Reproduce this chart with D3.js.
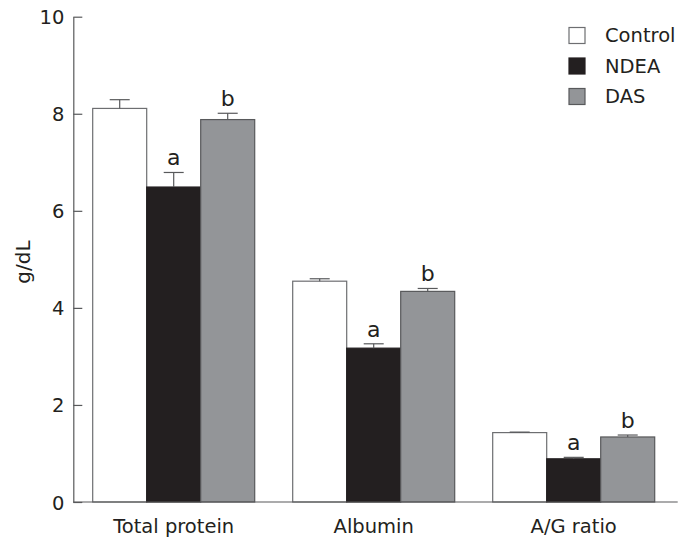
<!DOCTYPE html>
<html lang="en">
<head>
    <meta charset="UTF-8">
    <title>Serum proteins</title>
    <script src="https://d3js.org/d3.v7.min.js"></script>
    <style>
        body { margin: 0; background: #fff; }
        text { font-family: "DejaVu Sans", Verdana, sans-serif; fill: #231f20; }
        .axis path, .axis line { stroke: #58595b; stroke-width: 1.2px; }
        .axis text { font-size: 19.5px; fill: #231f20; }
        .err { stroke: #58595b; stroke-width: 1.2px; fill: none; }
    </style>
</head>
<body>
    <svg width="691" height="549"></svg>

    <script>
        // Data
        const categories = ["Total protein", "Albumin", "A/G ratio"];
        const groups = ["Control", "NDEA", "DAS"];
        const control = [8.11, 4.55, 1.43];
        const ndea = [6.49, 3.17, 0.89];
        const das = [7.88, 4.34, 1.34];
        const controlErr = [0.18, 0.05, 0.01];
        const ndeaErr = [0.30, 0.09, 0.03];
        const dasErr = [0.13, 0.06, 0.04];
        const ndeaMark = ["a", "a", "a"];
        const dasMark = ["b", "b", "b"];
        const yTicks = [0, 2, 4, 6, 8, 10];

        const fills = { Control: "#ffffff", NDEA: "#231f20", DAS: "#939598" };
        const strokes = { Control: "#6d6e71", NDEA: "#231f20", DAS: "#58595b" };

        const rows = [];
        categories.forEach((c, i) => {
            rows.push({ cat: c, group: "Control", value: control[i], err: controlErr[i], mark: "" });
            rows.push({ cat: c, group: "NDEA", value: ndea[i], err: ndeaErr[i], mark: ndeaMark[i] });
            rows.push({ cat: c, group: "DAS", value: das[i], err: dasErr[i], mark: dasMark[i] });
        });

        const svg = d3.select("svg");
        const left = 73.3, right = 677.7, bottom = 502;

        // Scales
        const x0 = d3.scaleBand().domain(categories).range([left, 674.1])
            .paddingInner(0.19).paddingOuter(0.097);
        const x1 = d3.scaleBand().domain(groups).range([0, x0.bandwidth()]);
        const y = d3.scaleLinear().domain([0, 10]).range([bottom, 16.7]);

        // Bars
        svg.selectAll(".bar")
            .data(rows)
            .enter().append("rect")
            .attr("class", "bar")
            .attr("x", d => x0(d.cat) + x1(d.group))
            .attr("y", d => y(d.value))
            .attr("width", x1.bandwidth())
            .attr("height", d => y(0) - y(d.value))
            .style("fill", d => fills[d.group])
            .style("stroke", d => strokes[d.group])
            .style("stroke-width", 1.2);

        // Error bars (upper only)
        const cx = d => x0(d.cat) + x1(d.group) + x1.bandwidth() / 2;
        svg.selectAll(".err-v")
            .data(rows)
            .enter().append("line")
            .attr("class", "err")
            .attr("x1", cx).attr("x2", cx)
            .attr("y1", d => y(d.value))
            .attr("y2", d => y(d.value + d.err));
        svg.selectAll(".err-h")
            .data(rows)
            .enter().append("line")
            .attr("class", "err")
            .attr("x1", d => cx(d) - 10).attr("x2", d => cx(d) + 10)
            .attr("y1", d => y(d.value + d.err))
            .attr("y2", d => y(d.value + d.err));

        // Significance letters
        svg.selectAll(".mark")
            .data(rows.filter(d => d.mark))
            .enter().append("text")
            .attr("x", cx)
            .attr("y", d => y(d.value + d.err) - 7)
            .attr("text-anchor", "middle")
            .style("font-size", "22px")
            .text(d => d.mark);

        // Y axis, ticks pointing inward
        const yAxis = svg.append("g")
            .attr("class", "axis")
            .attr("transform", "translate(" + left + ",0)")
            .call(d3.axisLeft(y).tickValues(yTicks).tickSizeInner(-9).tickSizeOuter(0).tickPadding(9));
        yAxis.selectAll("text").attr("dy", "0.36em");

        // X axis line
        svg.append("line")
            .attr("x1", left).attr("x2", right)
            .attr("y1", bottom).attr("y2", bottom)
            .style("stroke", "#58595b")
            .style("stroke-width", 1.2);

        // Category labels
        svg.selectAll(".cat")
            .data(categories)
            .enter().append("text")
            .attr("x", d => x0(d) + x0.bandwidth() / 2)
            .attr("y", 533)
            .attr("text-anchor", "middle")
            .style("font-size", "19.5px")
            .text(d => d);

        // Y axis label
        svg.append("text")
            .attr("transform", "translate(30,262) rotate(-90)")
            .attr("text-anchor", "middle")
            .style("font-size", "20px")
            .text("g/dL");

        // Legend
        const legend = svg.selectAll(".legend")
            .data(groups)
            .enter().append("g")
            .attr("transform", (d, i) => "translate(569," + (27.5 + i * 30.5) + ")");
        legend.append("rect")
            .attr("width", 16)
            .attr("height", 16)
            .style("fill", d => fills[d])
            .style("stroke", d => strokes[d])
            .style("stroke-width", 1.2);
        legend.append("text")
            .attr("x", 36)
            .attr("y", 14.5)
            .style("font-size", "19.5px")
            .text(d => d);
    </script>
</body>
</html>
